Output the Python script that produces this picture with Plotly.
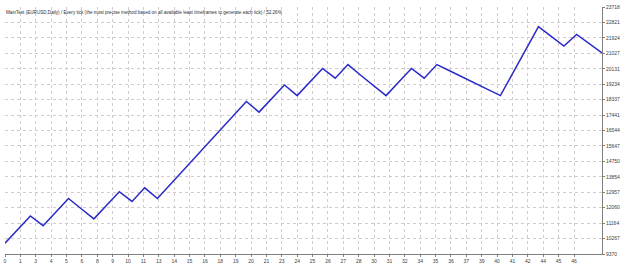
import numpy as np
import plotly.graph_objects as go

# balance per trade
trade_idx = list(range(48))
balance = [10000, 10789, 11579, 11015, 11804, 12593, 12001, 11410, 12199, 12988,
           12424, 13214, 12593, 13398, 14204, 15009, 15815, 16620, 17426, 18231,
           17611, 18400, 19190, 18570, 19359, 20148, 19585, 20374, 19754, 19134,
           18570, 19359, 20148, 19585, 20374, 20013, 19652, 19291, 18931, 18570,
           19904, 21239, 22573, 22009, 21445, 22122, 21586, 21050]

y_ticks = [9370, 10267, 11164, 12060, 12957, 13854, 14750, 15647, 16544, 17441,
           18337, 19234, 20131, 21027, 21924, 22821, 23718]
x_labels = [0, 1, 3, 4, 5, 6, 8, 9, 10, 11, 13, 14, 15, 16, 18, 19, 20, 21, 23, 24,
            25, 26, 27, 28, 30, 31, 32, 34, 35, 36, 37, 39, 40, 41, 42, 44, 45, 46]
title_text = ("MainTest (EURUSD,Daily) / Every tick (the most precise method based on "
              "all available least timeframes to generate each tick) / 52.26%")

x_tick_pos = [k * 1.2107 for k in range(len(x_labels))]

FONT = "Liberation Sans"
fig = go.Figure()
fig.add_trace(go.Scatter(x=trade_idx, y=balance, mode="lines",
                         line=dict(color="#2a2ac8", width=1.5),
                         hoverinfo="skip", showlegend=False))

fig.update_layout(
    width=625, height=268,
    margin=dict(l=4, r=23, t=4, b=10),
    paper_bgcolor="white", plot_bgcolor="white",
    font=dict(family=FONT, size=5, color="#404040"),
    xaxis=dict(range=[0, 47], tickvals=x_tick_pos, ticktext=[str(v) for v in x_labels],
               showgrid=True, gridcolor="#d4cccc", griddash="dot", gridwidth=1,
               zeroline=False, showline=True, linecolor="#808080", linewidth=1,
               ticks="outside", ticklen=2, tickcolor="#808080",
               tickfont=dict(size=5, color="#404040"), tickangle=0),
    yaxis=dict(range=[9370, 23718], tickvals=y_ticks, ticktext=[str(v) for v in y_ticks],
               side="right", showgrid=True, gridcolor="#d4cccc", griddash="dot", gridwidth=1,
               zeroline=False, showline=True, linecolor="#808080", linewidth=1,
               ticks="outside", ticklen=2, tickcolor="#808080",
               tickfont=dict(size=5, color="#404040")),
    annotations=[dict(text=title_text, xref="paper", yref="paper", x=0, y=1,
                      xanchor="left", yanchor="top", xshift=-1, yshift=-1,
                      showarrow=False, font=dict(size=4.6, color="#303030", family=FONT))],
)

fig.write_html("out.html")
